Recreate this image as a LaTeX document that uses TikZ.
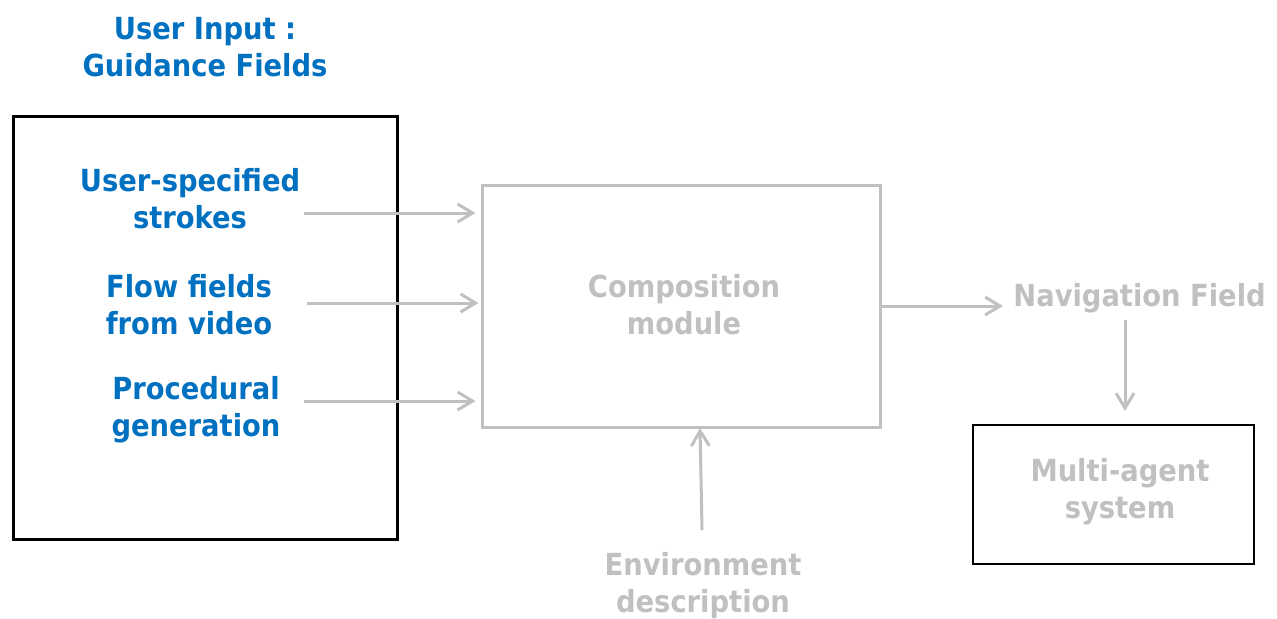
\documentclass[tikz,border=0pt]{standalone}
\usepackage{fontspec}
\setmainfont{DejaVu Sans Condensed}
\usetikzlibrary{arrows.meta}
\definecolor{inblue}{RGB}{0,112,192}
\definecolor{ltgray}{RGB}{192,192,192}

\begin{document}
\begin{tikzpicture}[x=0.5pt,y=-0.5pt,
  every node/.style={font=\bfseries\fontsize{15.2}{18.5}\selectfont, align=center, inner sep=0pt},
  bluetxt/.style={text=inblue},
  graytxt/.style={text=ltgray},
  arr/.style={draw=ltgray, line width=1.5pt, -{Straight Barb[length=7.5pt,width=9pt,line width=1.5pt]}}]
\useasboundingbox (0,0) rectangle (1277,618);
% title
\node[bluetxt] (title) at (205,47) {User Input :\\Guidance Fields};
% input box
\draw[black, line width=1.5pt] (13,116) rectangle (397,539);
\node[bluetxt] (strokes) at (190,199) {User-specified\\strokes};
\node[bluetxt] (video) at (189,305) {Flow fields\\from video};
\node[bluetxt] (proc) at (196,410) {Procedural\\generation};
% composition
\node[draw=ltgray, line width=1.5pt, minimum width=199pt, minimum height=121pt] (comp) at (681,306) {};
\node[graytxt] (comptxt) at (684,305) {Composition\\module};
\coordinate (s1) at (304,213);
\coordinate (s2) at (307,303);
\coordinate (s3) at (304,401);
\draw[arr, shorten >=2.5pt] (s1) -- (s1 -| comp.west);
\draw[arr, shorten >=1pt] (s2) -- (s2 -| comp.west);
\draw[arr, shorten >=2.5pt] (s3) -- (s3 -| comp.west);
% output
\node[graytxt, anchor=west] (nav) at (1013,298) {Navigation Field};
\draw[arr] (comp.east |- 0,306) -- (1003,306);
\node[draw=black, line width=1pt, minimum width=140.5pt, minimum height=69.5pt] (mas) at (1113.5,494.5) {};
\node[graytxt] (mastxt) at (1120,492) {Multi-agent\\system};
\draw[arr] (1125,320) -- (1125 ,411);
% environment
\node[graytxt] (env) at (703,586) {Environment\\description};
\draw[arr] (702,530) -- (700,428);
\end{tikzpicture}
\end{document}
